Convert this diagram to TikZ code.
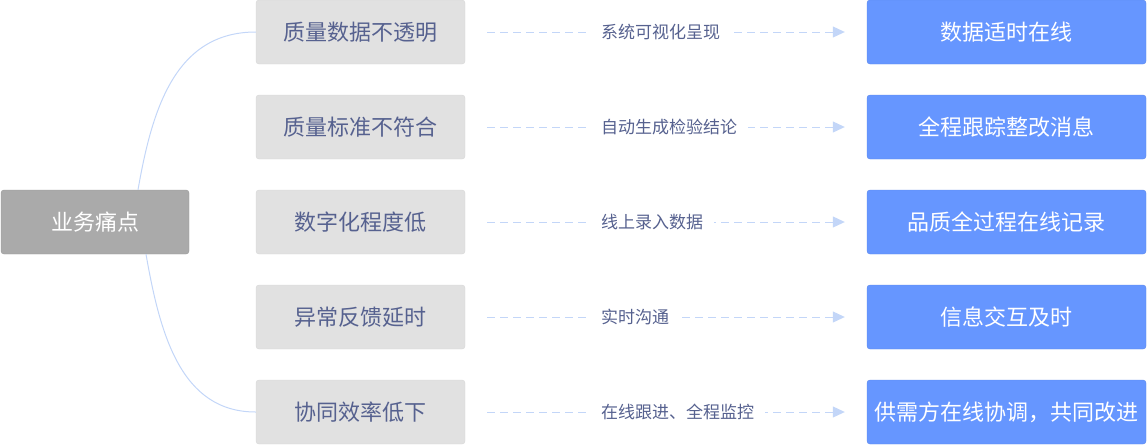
\documentclass[tikz,border=0pt]{standalone}
\usepackage{fontspec}
\setmainfont{Noto Sans CJK SC}
\usetikzlibrary{arrows.meta,positioning}
\definecolor{painbox}{HTML}{AAAAAA}
\definecolor{issuebox}{HTML}{E1E1E1}
\definecolor{issueline}{HTML}{D6D6D6}
\definecolor{fixbox}{HTML}{6696FF}
\definecolor{slatetext}{HTML}{56618F}
\definecolor{linkblue}{HTML}{C3D6F8}
\tikzset{
    painnode/.style={rectangle, draw=painbox!90!black, fill=painbox, text=white, rounded corners=3pt, minimum width=188pt, minimum height=64pt, font=\fontsize{22pt}{26pt}\selectfont},
    issuenode/.style={rectangle, draw=issueline, fill=issuebox, text=slatetext, rounded corners=3pt, minimum width=209pt, minimum height=64pt, font=\fontsize{22pt}{26pt}\selectfont},
    fixnode/.style={rectangle, draw=fixbox!92!black, fill=fixbox, text=white, rounded corners=3pt, minimum width=279pt, minimum height=64pt, inner xsep=2pt, font=\fontsize{22pt}{26pt}\selectfont},
    steplink/.style={draw=linkblue, line width=1pt, dash pattern=on 8pt off 5pt, -{Triangle[length=12pt,width=11pt]}, shorten <=22pt, shorten >=22pt},
    steptag/.style={fill=white, text=slatetext, inner xsep=11pt, inner ysep=2pt, anchor=west, font=\fontsize{17pt}{20pt}\selectfont},
    branch/.style={draw=linkblue, line width=1pt}
}
\begin{document}
\begin{tikzpicture}[x=1pt, y=-1pt]
    \useasboundingbox (0,0) rectangle (1147,445);
    % left root
    \node(pain) [painnode] at (95,222) {业务痛点};
    % pain points
    \node(m1) [issuenode] at (360.5,32) {质量数据不透明};
    \node(m2) [issuenode] at (360.5,127) {质量标准不符合};
    \node(m3) [issuenode] at (360.5,222) {数字化程度低};
    \node(m4) [issuenode] at (360.5,317) {异常反馈延时};
    \node(m5) [issuenode] at (360.5,412) {协同效率低下};
    % results
    \node(r1) [fixnode] at (1006.5,32) {数据适时在线};
    \node(r2) [fixnode] at (1006.5,127) {全程跟踪整改消息};
    \node(r3) [fixnode] at (1006.5,222) {品质全过程在线记录};
    \node(r4) [fixnode] at (1006.5,317) {信息交互及时};
    \node(r5) [fixnode] at (1006.5,412) {供需方在线协调，共同改进};
    % branches
    \draw[branch] ([xshift=43pt]pain.north) .. controls +(14,-80) and +(-81,0) .. (m1.west);
    \draw[branch] ([xshift=51pt]pain.south) .. controls +(14,80) and +(-75,0) .. (m5.west);
    % links
    \draw[steplink] (m1.east) -- (r1.west);
    \draw[steplink] (m2.east) -- (r2.west);
    \draw[steplink] (m3.east) -- (r3.west);
    \draw[steplink] (m4.east) -- (r4.west);
    \draw[steplink] (m5.east) -- (r5.west);
    \node(t1) [steptag] at (590,32) {系统可视化呈现};
    \node(t2) [steptag] at (590,127) {自动生成检验结论};
    \node(t3) [steptag] at (590,222) {线上录入数据};
    \node(t4) [steptag] at (590,317) {实时沟通};
    \node(t5) [steptag] at (590,412) {在线跟进、全程监控};
\end{tikzpicture}
\end{document}
